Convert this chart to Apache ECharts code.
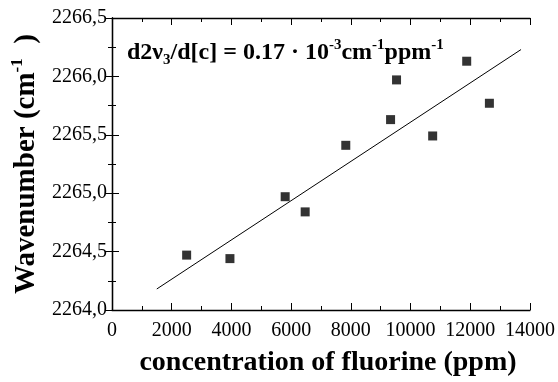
<!DOCTYPE html>
<html>
<head>
<meta charset="utf-8">
<script src="https://cdn.jsdelivr.net/npm/echarts@6/dist/echarts.min.js"></script>
<style>
html,body{margin:0;padding:0;background:#fff;}
#chart{width:558px;height:382px;}
</style>
</head>
<body>
<div id="chart"></div>
<script>
// Data
var concentration = [2500, 3950, 5800, 6470, 7830, 9330, 9530, 10740, 11880, 12640];
var wavenumber = [2264.47, 2264.44, 2264.97, 2264.84, 2265.41, 2265.63, 2265.97, 2265.49, 2266.13, 2265.77];
var fitX = [1500, 13700];
var fitY = [2264.18, 2266.23];
var xTicks = [0, 2000, 4000, 6000, 8000, 10000, 12000, 14000];
var yTicks = ['2264,0', '2264,5', '2265,0', '2265,5', '2266,0', '2266,5'];

var FONT = "Liberation Serif";
var chart = echarts.init(document.getElementById('chart'), null, {renderer: 'canvas'});

var scatterData = concentration.map(function (x, i) { return [x, wavenumber[i]]; });
var fitData = fitX.map(function (x, i) { return [x, fitY[i]]; });

function tickCommon() {
  return {
    axisLine: {show: true, lineStyle: {color: '#000', width: 1.3}},
    axisTick: {show: true, inside: true, length: 7, lineStyle: {color: '#000', width: 1}},
    minorTick: {show: true, splitNumber: 2, length: 4, lineStyle: {color: '#000', width: 1}},
    splitLine: {show: false},
    minorSplitLine: {show: false}
  };
}

var option = {
  backgroundColor: '#fff',
  animation: false,
  textStyle: {fontFamily: FONT},
  grid: {left: 112, right: 26, top: 18, bottom: 69, containLabel: false},
  xAxis: [
    Object.assign({
      type: 'value', position: 'bottom', min: 0, max: 14000, interval: 2000,
      axisLabel: {show: true, color: '#000', fontFamily: FONT, fontSize: 20, margin: 11,
        formatter: function (v) { return xTicks.indexOf(v) >= 0 ? String(v) : ''; }},
      name: 'concentration of fluorine (ppm)',
      nameLocation: 'middle', nameGap: 39,
      nameTextStyle: {color: '#000', fontFamily: FONT, fontSize: 28, fontWeight: 'bold', padding: [0, 0, 0, 14]}
    }, tickCommon()),
    Object.assign({
      type: 'value', position: 'top', min: 0, max: 14000, interval: 2000,
      axisLabel: {show: false}
    }, tickCommon())
  ],
  yAxis: [
    Object.assign({
      type: 'value', position: 'left', min: 2264, max: 2266.5, interval: 0.5,
      axisLabel: {show: true, color: '#000', fontFamily: FONT, fontSize: 20, margin: 5,
        formatter: function (v) { return yTicks[Math.round((v - 2264) / 0.5)]; }},
      name: '{m|Wavenumber (cm}{s|-1}{m|  )}',
      nameLocation: 'middle', nameGap: 64, nameRotate: 90,
      nameTextStyle: {color: '#000', fontFamily: FONT, fontSize: 29, fontWeight: 'bold',
        rich: {
          m: {fontFamily: FONT, fontSize: 29, fontWeight: 'bold', color: '#000', lineHeight: 35},
          s: {fontFamily: FONT, fontSize: 17, fontWeight: 'bold', color: '#000', verticalAlign: 'top', lineHeight: 35}
        }}
    }, tickCommon()),
    Object.assign({
      type: 'value', position: 'right', min: 2264, max: 2266.5, interval: 0.5,
      axisLabel: {show: false}
    }, tickCommon())
  ],
  graphic: [{
    type: 'text', left: 127, top: 38, z: 100,
    style: {
      text: '{m|d2ν}{sb|3}{m|/d[c] = 0.17 · 10}{sp|-3}{m|cm}{sp|-1}{m|ppm}{sp|-1}',
      fontFamily: FONT,
      rich: {
        m: {fontFamily: FONT, fontSize: 24, fontWeight: 'bold', fill: '#000', lineHeight: 30},
        sb: {fontFamily: FONT, fontSize: 15, fontWeight: 'bold', fill: '#000', verticalAlign: 'bottom', lineHeight: 30},
        sp: {fontFamily: FONT, fontSize: 15, fontWeight: 'bold', fill: '#000', verticalAlign: 'top', lineHeight: 30}
      }
    }
  }],
  series: [
    {
      type: 'line', xAxisIndex: 0, yAxisIndex: 0, data: fitData,
      showSymbol: false, symbol: 'none',
      lineStyle: {color: '#000', width: 1}, silent: true
    },
    {
      type: 'scatter', xAxisIndex: 0, yAxisIndex: 0, data: scatterData,
      symbol: 'rect', symbolSize: 9,
      itemStyle: {color: '#000'}
    }
  ]
};
chart.setOption(option);
</script>
</body>
</html>
